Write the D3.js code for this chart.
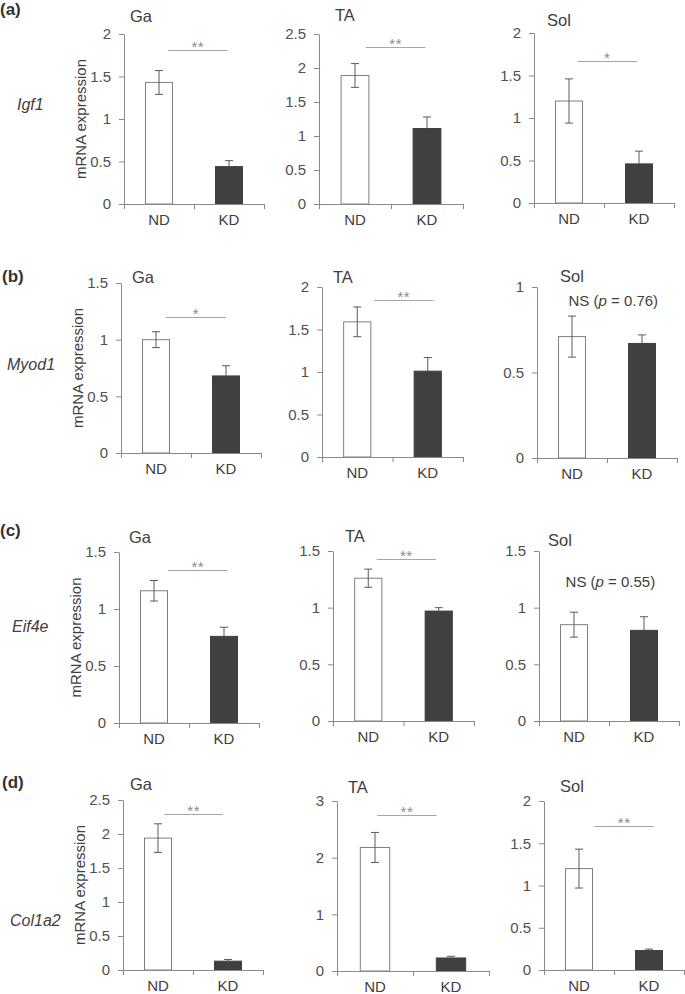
<!DOCTYPE html>
<html><head><meta charset="utf-8">
<script src="https://cdn.jsdelivr.net/npm/d3@7"></script>
<style>body{margin:0;background:#fff} text{font-family:"Liberation Sans",Arial,sans-serif}</style>
</head><body>
<svg id="chart" width="685" height="994"></svg>
<script>
// ---------- data ----------
const categories = ["ND", "KD"];
const muscles = ["Ga", "TA", "Sol"];
const genes = ["Igf1", "Myod1", "Eif4e", "Col1a2"];
const panelLetters = ["(a)", "(b)", "(c)", "(d)"];
const yAxisTitle = "mRNA expression";
const ndMeans  = [[1.43, 1.89, 1.20], [1.00, 1.59, 0.71], [1.16, 1.26, 0.85], [1.94, 2.18, 1.20]];
const ndErrors = [[0.14, 0.175, 0.26], [0.07, 0.175, 0.12], [0.09, 0.08, 0.11], [0.21, 0.265, 0.23]];
const kdMeans  = [[0.44, 1.11, 0.46], [0.68, 1.01, 0.67], [0.76, 0.97, 0.80], [0.13, 0.23, 0.23]];
const kdErrors = [[0.07, 0.17, 0.15], [0.09, 0.16, 0.05], [0.08, 0.03, 0.12], [0.025, 0.03, 0.017]];
const yMax      = [[2, 2.5, 2], [1.5, 2, 1], [1.5, 1.5, 1.5], [2.5, 3, 2]];
const yTickStep = [[0.5, 0.5, 0.5], [0.5, 0.5, 0.5], [0.5, 0.5, 0.5], [0.5, 1, 0.5]];
const sigLabels = [["**", "**", "*"], ["*", "**", "NS"], ["**", "**", "NS"], ["**", "**", "**"]];
const pValues   = [[null, null, null], [null, null, "0.76"], [null, null, "0.55"], [null, null, null]];
const sigLevel  = [[1.81, 2.31, 1.67], [1.20, 1.85, 0.89], [1.34, 1.43, 1.18], [2.30, 2.76, 1.70]];

// ---------- layout (pixels) ----------
const layout = [
  [{x:124,right:264,top:34,bottom:204,tx:130,ty:22,sig:[0.63,1.48]},
   {x:319,right:463,top:34,bottom:204,tx:335,ty:21,sig:[0.65,1.48]},
   {x:534,right:674,top:33,bottom:203,tx:547,ty:26,sig:[0.62,1.47]}],
  [{x:121,right:261,top:283,bottom:453,tx:132,ty:283,sig:[0.64,1.5]},
   {x:322,right:463,top:287,bottom:457,tx:333,ty:283,sig:[0.74,1.58]},
   {x:537,right:677,top:287,bottom:458,tx:560,ty:282,sig:[1.09,1.09]}],
  [{x:119,right:259,top:552,bottom:723,tx:129,ty:543,sig:[0.70,1.55]},
   {x:333,right:474,top:551,bottom:721,tx:345,ty:542,sig:[0.62,1.46]},
   {x:539,right:679,top:551,bottom:721,tx:548,ty:546,sig:[1.02,1.02]}],
  [{x:123,right:263,top:800,bottom:970,tx:130,ty:790,sig:[0.59,1.43]},
   {x:337,right:489,top:801,bottom:971,tx:348,ty:793,sig:[0.53,1.31]},
   {x:544,right:684,top:801,bottom:970,tx:560,ty:792,sig:[0.72,1.57]}]
];
const rowPos = [
  {lx:0, ly:15, gx:17, gy:110},
  {lx:2, ly:282, gx:7, gy:370},
  {lx:0, ly:536, gx:12, gy:632},
  {lx:2, ly:788, gx:10, gy:926}
];

const AXIS = "#8a8a8a", TXT = "#505050", DARK = "#404040";
const svg = d3.select("#chart");

genes.forEach((gene, r) => {
  const rp = rowPos[r];
  svg.append("text").attr("x", rp.lx).attr("y", rp.ly)
    .attr("font-size", 17).attr("font-weight", "bold").attr("fill", "#333")
    .text(panelLetters[r]);
  svg.append("text").attr("x", rp.gx).attr("y", rp.gy)
    .attr("font-size", 16).attr("font-style", "italic").attr("fill", DARK)
    .text(gene);

  muscles.forEach((m, c) => {
    const p = layout[r][c];
    const g = svg.append("g");
    const x = d3.scaleBand().domain(categories).range([p.x, p.right]).paddingInner(0.6).paddingOuter(0.3);
    const xb = d3.scaleLinear().domain([0, categories.length]).range([p.x, p.right]);
    const y = d3.scaleLinear().domain([0, yMax[r][c]]).range([p.bottom, p.top]);
    const step = xb(1) - xb(0);

    const rows = [
      {cat: categories[0], mean: ndMeans[r][c], err: ndErrors[r][c], fill: "#ffffff", stroke: "#7f7f7f", both: true},
      {cat: categories[1], mean: kdMeans[r][c], err: kdErrors[r][c], fill: DARK, stroke: DARK, both: false}
    ];

    // bars
    g.selectAll("rect.bar").data(rows).join("rect")
      .attr("x", d => x(d.cat) + 0.5).attr("width", x.bandwidth() - 1)
      .attr("y", d => y(d.mean)).attr("height", d => y(0) - y(d.mean))
      .attr("fill", d => d.fill).attr("stroke", d => d.stroke).attr("stroke-width", 1);

    // error bars
    const cx = d => x(d.cat) + x.bandwidth() / 2;
    const eb = g.selectAll("g.err").data(rows).join("g").attr("stroke", "#5a5a5a").attr("stroke-width", 1);
    eb.append("line").attr("x1", cx).attr("x2", cx)
      .attr("y1", d => y(d.both ? d.mean - d.err : d.mean)).attr("y2", d => y(d.mean + d.err));
    eb.append("line").attr("x1", d => cx(d) - 4).attr("x2", d => cx(d) + 4)
      .attr("y1", d => y(d.mean + d.err)).attr("y2", d => y(d.mean + d.err));
    eb.filter(d => d.both).append("line").attr("x1", d => cx(d) - 4).attr("x2", d => cx(d) + 4)
      .attr("y1", d => y(d.mean - d.err)).attr("y2", d => y(d.mean - d.err));

    // y axis
    const tv = d3.range(0, yMax[r][c] + 1e-9, yTickStep[r][c]);
    const ya = g.append("g").attr("transform", `translate(${p.x},0)`)
      .call(d3.axisLeft(y).tickValues(tv).tickSize(5).tickPadding(8).tickSizeOuter(0).tickFormat(d3.format("~g")));
    ya.select(".domain").attr("stroke", AXIS);
    ya.selectAll(".tick line").attr("stroke", AXIS);
    ya.selectAll(".tick text").attr("fill", TXT).attr("font-size", 15)
      .attr("font-family", '"Liberation Sans",Arial,sans-serif');

    // x axis (category boundaries)
    const xa = g.append("g").attr("transform", `translate(0,${p.bottom})`)
      .call(d3.axisBottom(xb).tickValues(d3.range(0, categories.length + 1)).tickSize(5).tickSizeOuter(0).tickFormat(""));
    xa.select(".domain").attr("stroke", AXIS);
    xa.selectAll(".tick line").attr("stroke", AXIS);

    // category labels
    g.selectAll("text.cat").data(categories).join("text")
      .attr("x", d => x(d) + x.bandwidth() / 2).attr("y", p.bottom + 21)
      .attr("text-anchor", "middle").attr("font-size", 15).attr("fill", DARK).text(d => d);

    // title
    g.append("text").attr("x", p.tx).attr("y", p.ty).attr("font-size", 16.5).attr("fill", DARK).text(m);

    // y axis title
    if (c === 0) {
      const my = (p.top + p.bottom) / 2;
      g.append("text").attr("transform", `translate(${p.x - 43},${my}) rotate(-90)`)
        .attr("text-anchor", "middle").attr("dy", "0.35em")
        .attr("font-size", 15).attr("fill", DARK).text(yAxisTitle);
    }

    // significance
    const lab = sigLabels[r][c];
    const sx0 = p.x + p.sig[0] * step, sx1 = p.x + p.sig[1] * step;
    if (lab === "NS") {
      const t = g.append("text").attr("x", (sx0 + sx1) / 2).attr("y", y(sigLevel[r][c]))
        .attr("text-anchor", "middle").attr("font-size", 15).attr("fill", DARK);
      t.append("tspan").text("NS (");
      t.append("tspan").attr("font-style", "italic").text("p");
      t.append("tspan").text(" = " + pValues[r][c] + ")");
    } else {
      const ly = Math.round(y(sigLevel[r][c])) + 0.5;
      g.append("line").attr("x1", sx0).attr("x2", sx1).attr("y1", ly).attr("y2", ly)
        .attr("stroke", "#a6a6a6").attr("stroke-width", 1);
      g.append("text").attr("x", (sx0 + sx1) / 2).attr("y", ly + 1.5)
        .attr("text-anchor", "middle").attr("font-size", 15).attr("letter-spacing", 0.5)
        .attr("fill", "#8c8c8c").text(lab);
    }
  });
});
</script>
</body></html>
